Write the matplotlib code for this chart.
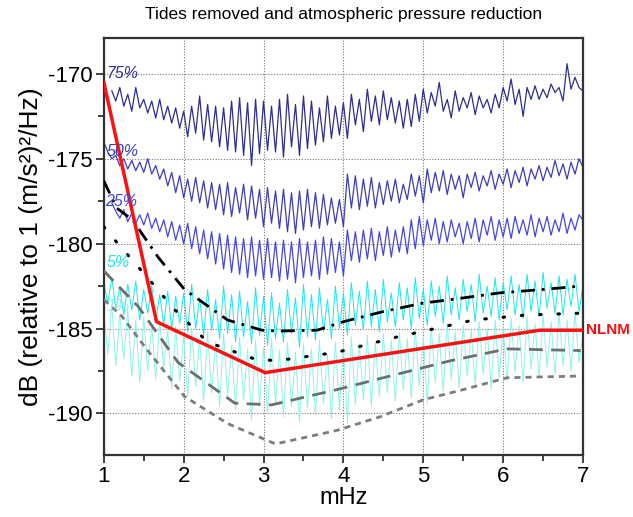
import numpy as np
import matplotlib
matplotlib.use("Agg")
import matplotlib.pyplot as plt
from matplotlib.ticker import MultipleLocator

plt.rcParams['font.family'] = ['Liberation Sans', 'DejaVu Sans']
plt.rcParams['axes.unicode_minus'] = False

nan = np.nan
# ---- data ----
p75 = [nan, nan, -171.0, -171.6, -170.8, -171.9, -171.2, -172.2, -170.8, -172.0,
       -171.5, -172.3, -171.6, -172.6, -171.5, -172.7, -171.9, -172.9, -172.0, -173.2,
       -172.2, -173.7, -171.9, -173.5, -171.3, -173.9, -171.8, -174.0, -171.9, -174.3,
       -172.0, -174.5, -171.6, -174.6, -171.4, -174.8, -171.7, -175.4, -171.5, -174.7,
       -171.6, -174.5, -171.9, -174.6, -171.5, -174.9, -171.2, -174.3, -171.8, -174.8,
       -171.3, -174.4, -171.6, -174.2, -172.0, -174.0, -171.3, -173.8, -171.9, -173.6,
       -171.7, -173.8, -171.2, -173.0, -171.5, -173.4, -170.9, -172.8, -171.3, -173.0,
       -171.0, -172.7, -171.4, -172.9, -171.6, -173.2, -171.5, -173.1, -171.2, -172.8,
       -170.9, -172.3, -171.1, -171.9, -170.5, -172.2, -171.5, -172.6, -171.0, -172.2,
       -171.4, -172.0, -171.1, -172.4, -171.3, -172.0, -171.5, -172.3, -171.2, -172.0,
       -170.8, -171.6, -170.3, -171.8, -170.9, -172.5, -170.8, -171.5, -170.7, -171.5,
       -170.9, -171.4, -170.6, -171.1, -170.8, -171.6, -169.4, -170.9, -170.2, -170.8,
       -171.0]
p50 = [-174.0, -174.6, -175.0, -174.8, -175.4, -175.0, -175.6, -175.1, -175.7, -175.2,
       -175.8, -175.0, -175.9, -175.4, -176.2, -175.6, -176.6, -175.8, -177.0, -176.0,
       -177.3, -176.2, -177.5, -176.1, -177.6, -176.3, -177.9, -176.4, -178.0, -176.5,
       -178.3, -176.4, -178.4, -176.7, -178.2, -176.5, -178.6, -176.6, -178.5, -176.8,
       -179.0, -176.7, -178.8, -176.9, -179.1, -176.8, -179.3, -177.0, -179.4, -176.9,
       -179.2, -176.8, -179.0, -177.0, -179.1, -177.1, -178.9, -177.3, -178.8, -177.4,
       -179.0, -175.9, -177.9, -176.0, -178.0, -176.2, -177.8, -176.1, -177.9, -176.4,
       -177.7, -176.3, -177.5, -176.2, -177.6, -176.5, -177.4, -175.9, -177.2, -176.0,
       -177.6, -175.6, -177.0, -175.8, -176.9, -175.7, -177.1, -175.9, -176.8, -176.0,
       -177.3, -175.9, -176.7, -175.8, -176.9, -176.0, -176.6, -175.7, -176.8, -175.9,
       -176.5, -175.6, -176.7, -175.7, -176.4, -175.5, -176.6, -175.6, -176.2, -175.4,
       -176.3, -175.5, -176.1, -175.1, -176.0, -175.3, -176.2, -175.2, -175.9, -175.0,
       -175.5]
p25 = [nan, nan, -177.6, -178.1, -178.5, -178.0, -178.7, -178.2, -178.8, -178.3,
       -178.9, -178.2, -179.1, -178.5, -179.3, -178.6, -179.6, -178.7, -179.8, -178.9,
       -180.0, -178.8, -180.3, -179.0, -180.6, -179.2, -180.9, -179.3, -181.2, -179.4,
       -181.5, -179.5, -181.7, -179.6, -181.8, -179.7, -182.0, -179.6, -181.9, -179.8,
       -182.1, -179.7, -182.0, -179.9, -182.2, -179.8, -182.1, -179.9, -182.3, -179.7,
       -182.0, -179.9, -181.9, -179.8, -182.1, -179.6, -181.8, -179.7, -181.7, -179.9,
       -181.9, -179.2, -181.0, -179.3, -181.1, -179.2, -180.9, -179.1, -181.0, -179.3,
       -180.7, -179.0, -180.8, -179.2, -180.5, -179.0, -180.6, -178.6, -180.3, -178.4,
       -180.1, -178.6, -179.8, -178.5, -180.0, -178.7, -179.9, -178.6, -179.6, -178.8,
       -180.0, -178.7, -179.7, -178.5, -179.9, -178.6, -179.5, -178.4, -179.8, -178.6,
       -179.6, -178.5, -179.7, -178.4, -179.4, -178.6, -179.5, -178.3, -179.6, -178.5,
       -179.3, -178.4, -179.5, -178.6, -179.3, -178.2, -179.4, -178.5, -179.2, -178.3,
       -178.6]
p05 = [-182.3, -183.5, -182.0, -183.8, -182.6, -184.2, -182.4, -183.9, -182.2, -184.5,
       -182.7, -184.1, -182.5, -184.6, -183.0, -184.8, -182.8, -185.0, -183.1, -184.7,
       -182.9, -185.2, -182.4, -185.0, -183.2, -185.4, -182.7, -185.1, -183.3, -185.6,
       -182.5, -185.3, -183.0, -185.8, -182.8, -185.5, -183.4, -185.9, -182.6, -185.4,
       -183.1, -186.0, -182.9, -185.6, -183.5, -185.8, -182.7, -185.3, -183.2, -186.1,
       -182.4, -185.5, -183.0, -185.7, -182.6, -185.2, -183.3, -185.6, -182.5, -185.0,
       -182.9, -185.4, -182.3, -184.8, -182.8, -185.1, -182.2, -184.9, -182.7, -185.2,
       -182.1, -184.6, -182.9, -184.9, -182.3, -184.5, -182.6, -185.0, -182.0, -184.4,
       -182.7, -184.8, -182.2, -184.3, -182.5, -184.7, -181.9, -184.2, -182.6, -184.5,
       -182.1, -184.0, -182.4, -184.6, -181.8, -184.1, -182.5, -184.3, -182.0, -184.5,
       -182.3, -183.9, -181.9, -184.2, -182.4, -184.4, -181.8, -184.0, -182.2, -184.3,
       -181.7, -183.8, -182.3, -184.1, -181.9, -184.2, -182.1, -183.7, -181.8, -184.0,
       -182.5]
p01 = [-184.0, -186.5, -183.6, -187.2, -184.2, -186.8, -183.9, -187.8, -184.5, -188.2,
       -184.3, -187.5, -184.8, -188.0, -184.6, -187.3, -185.1, -188.5, -184.9, -188.1,
       -185.4, -189.0, -185.0, -188.4, -185.6, -189.3, -185.2, -188.8, -185.8, -189.6,
       -185.3, -189.0, -186.0, -189.8, -185.5, -189.2, -186.2, -190.4, -185.7, -189.5,
       -186.1, -190.0, -185.6, -189.4, -186.3, -190.2, -185.8, -189.6, -186.4, -190.5,
       -185.9, -189.7, -186.2, -190.1, -185.7, -189.4, -186.5, -190.3, -185.8, -189.8,
       -186.0, -190.6, -185.5, -189.5, -185.9, -189.2, -185.4, -189.6, -185.8, -189.0,
       -185.3, -188.8, -185.7, -189.3, -185.2, -188.6, -185.6, -189.1, -185.0, -188.4,
       -185.5, -189.4, -184.9, -188.2, -185.3, -188.7, -184.7, -188.0, -185.2, -188.5,
       -184.8, -187.8, -185.1, -188.3, -184.6, -187.7, -185.0, -188.6, -184.5, -187.9,
       -184.9, -188.1, -184.4, -187.6, -184.8, -188.2, -184.3, -187.4, -184.7, -187.9,
       -184.2, -187.3, -184.6, -187.7, -184.1, -187.2, -184.5, -187.5, -184.0, -187.0,
       -185.3]

dashdot_x = [1.0, 1.16, 1.36, 1.68, 2.01, 2.55, 2.98, 3.2, 3.67, 4.0, 4.5, 5.0, 5.34, 5.96, 6.5, 6.97]
dashdot_y = [-176.3, -177.9, -178.6, -180.8, -182.7, -184.5, -185.1, -185.15, -185.1, -184.6,
             -184.0, -183.5, -183.3, -182.9, -182.7, -182.5]
dotted_x = [1.0, 1.14, 1.51, 1.89, 2.3, 2.89, 3.17, 3.92, 4.67, 5.25, 5.63, 6.3, 6.97]
dotted_y = [-179.0, -179.8, -181.8, -183.9, -185.8, -186.8, -186.9, -186.4, -185.5, -184.9,
            -184.5, -184.2, -184.1]
nlnm_x = [1.0, 1.66, 3.02, 6.46, 7.0]
nlnm_y = [-170.5, -184.6, -187.6, -185.1, -185.1]
longdash_x = [1.0, 1.14, 1.43, 1.93, 2.64, 3.1, 3.92, 4.5, 5.34, 6.05, 6.97]
longdash_y = [-181.6, -182.3, -183.7, -187.0, -189.4, -189.5, -188.6, -187.9, -186.9, -186.2, -186.3]
shortdash_x = [1.0, 1.23, 1.55, 2.01, 2.55, 3.15, 3.92, 4.46, 5.0, 5.5, 6.05, 6.97]
shortdash_y = [-183.3, -184.3, -186.3, -189.0, -190.6, -191.8, -191.0, -190.2, -189.2, -188.6,
               -187.9, -187.8]

fig = plt.figure(figsize=(6.33, 5.17), dpi=100)
ax = fig.add_axes([0.164, 0.12, 0.757, 0.806])

def xs(v):
    return np.linspace(1.0, 7.0, len(v))

ax.plot(xs(p01), p01, color='#8ff0f0', lw=0.7, zorder=2)
ax.plot(xs(p05), p05, color='#1ee6e6', lw=0.7, zorder=2)
ax.plot(xs(p25), p25, color='#4747e0', lw=0.9, zorder=2)
ax.plot(xs(p50), p50, color='#3d3db8', lw=0.9, zorder=2)
ax.plot(xs(p75), p75, color='#2e2e8e', lw=0.9, zorder=2)

ax.plot(shortdash_x, shortdash_y, color='#7d7d7d', lw=2.0, dashes=(2.2, 1.8), zorder=3)
ax.plot(longdash_x, longdash_y, color='#6e6e6e', lw=2.0, dashes=(5, 3), zorder=3)
ax.plot(dotted_x, dotted_y, color='black', lw=2.2, dashes=(0.5, 5.5), dash_capstyle='round', zorder=3)
ax.plot(dashdot_x, dashdot_y, color='black', lw=2.0, dashes=(5, 2.5, 1, 2.5), zorder=3)
ax.plot(nlnm_x, nlnm_y, color='#ff1010', lw=2.5, zorder=4)

ax.set_xlim(1, 7)
ax.set_ylim(-192.45, -167.9)
ax.xaxis.set_major_locator(MultipleLocator(1))
ax.xaxis.set_minor_locator(MultipleLocator(0.5))
ax.yaxis.set_major_locator(MultipleLocator(5))
ax.yaxis.set_minor_locator(MultipleLocator(2.5))
ax.tick_params(which='both', direction='out', top=False, right=False, labelsize=16, width=1.3,
               color='#333333', pad=2)
ax.tick_params(which='major', length=6)
ax.tick_params(which='minor', length=4)
ax.grid(True, which='major', color='#777777', lw=0.8, linestyle=(0, (1, 1.5)))
for s in ax.spines.values():
    s.set_linewidth(1.6)
    s.set_color('#333333')

ax.set_xlabel('mHz', fontsize=17, labelpad=0)
ax.set_ylabel('dB (relative to 1 (m/s²)²/Hz)', fontsize=19, labelpad=4)
fig.text(0.543, 0.971, 'Tides removed and atmospheric pressure reduction', ha='center', va='center', fontsize=12.5)

lab = dict(fontsize=11.5, style='italic', ha='left', va='center', zorder=5)
ax.text(1.03, -170.0, '75%', color='#2e2e8e', **lab)
ax.text(1.03, -174.6, '50%', color='#3d3db8', **lab)
ax.text(1.02, -177.5, '25%', color='#4747e0', **lab)
ax.text(1.03, -181.1, '5%', color='#1ee6e6', **lab)
ax.text(1.03, -183.7, '1%', color='#8ff0f0', **lab)
ax.text(7.04, -185.1, 'NLNM', color='#ff1010', fontsize=11, fontweight='bold', ha='left', va='center', clip_on=False)

fig.savefig('out.png', dpi=100)
